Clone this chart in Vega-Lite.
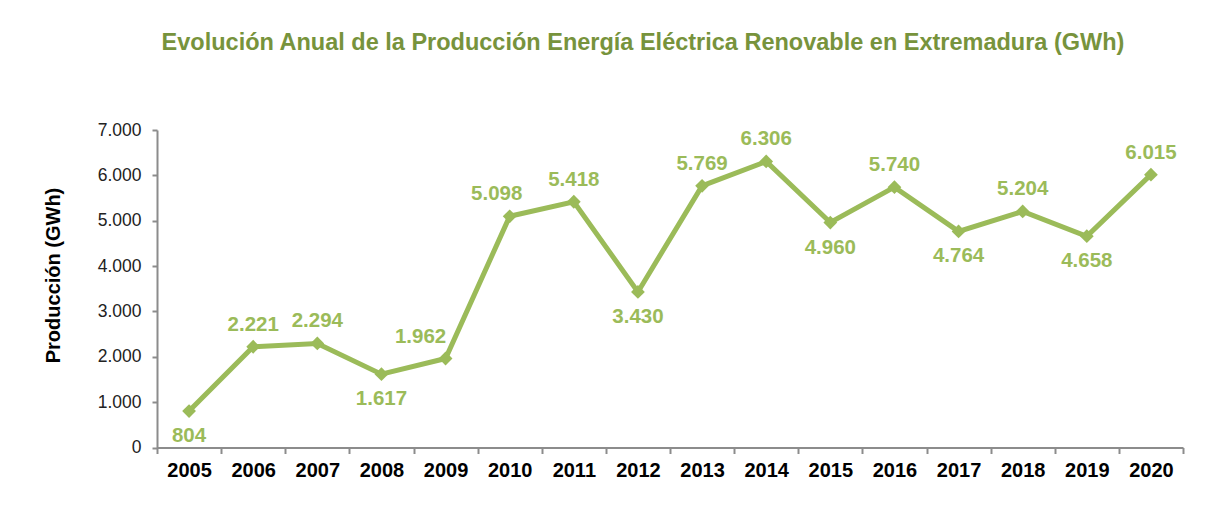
{
  "$schema": "https://vega.github.io/schema/vega-lite/v6.json",
  "autosize": "none",
  "width": 1026,
  "height": 317.5,
  "padding": {"left": 157, "top": 130, "right": 44, "bottom": 69.5},
  "background": "white",
  "config": {
    "font": "Liberation Sans",
    "view": {"stroke": null},
    "locale": {"number": {"decimal": ",", "thousands": ".", "grouping": [3], "currency": ["", " €"]}}
  },
  "title": {
    "text": "Evolución Anual de la Producción Energía Eléctrica Renovable en Extremadura (GWh)",
    "fontSize": 23.5,
    "fontWeight": "bold",
    "color": "#77933C",
    "anchor": "middle",
    "dx": -27,
    "offset": 67
  },
  "data": {
    "values": [
      {"year": "2005", "value": 804},
      {"year": "2006", "value": 2221},
      {"year": "2007", "value": 2294},
      {"year": "2008", "value": 1617},
      {"year": "2009", "value": 1962},
      {"year": "2010", "value": 5098},
      {"year": "2011", "value": 5418},
      {"year": "2012", "value": 3430},
      {"year": "2013", "value": 5769},
      {"year": "2014", "value": 6306},
      {"year": "2015", "value": 4960},
      {"year": "2016", "value": 5740},
      {"year": "2017", "value": 4764},
      {"year": "2018", "value": 5204},
      {"year": "2019", "value": 4658},
      {"year": "2020", "value": 6015}
    ]
  },
  "encoding": {
    "x": {
      "field": "year",
      "type": "ordinal",
      "scale": {"paddingInner": 0, "paddingOuter": 0},
      "axis": {
        "title": null,
        "labelAngle": 0,
        "labelFontSize": 20,
        "labelFontWeight": "bold",
        "labelColor": "#000000",
        "labelPadding": 7,
        "tickBand": "extent",
        "tickSize": 6,
        "tickColor": "#8C8C8C",
        "domainColor": "#8C8C8C",
        "domainWidth": 2,
        "tickWidth": 2
      }
    },
    "y": {
      "field": "value",
      "type": "quantitative",
      "scale": {"domain": [0, 7000], "nice": false},
      "axis": {
        "values": [0, 1000, 2000, 3000, 4000, 5000, 6000, 7000],
        "format": ",d",
        "grid": false,
        "title": "Producción (GWh)",
        "titleFontSize": 20,
        "titleFontWeight": "bold",
        "titleColor": "#000000",
        "titleX": -104,
        "titleY": 145,
        "titleBaseline": "middle",
        "labelFontSize": 17.5,
        "labelColor": "#222222",
        "labelPadding": 11,
        "tickSize": 5,
        "tickColor": "#8C8C8C",
        "domainColor": "#8C8C8C",
        "domainWidth": 2,
        "tickWidth": 2
      }
    }
  },
  "layer": [
    {"mark": {"type": "line", "color": "#9BBB59", "strokeWidth": 5}},
    {"mark": {"type": "point", "shape": "diamond", "filled": true, "opacity": 1, "color": "#9BBB59", "size": 190}},
    {
      "transform": [{"filter": {"field": "year", "oneOf": ["2005", "2008", "2012", "2015", "2017", "2019"]}}],
      "mark": {"type": "text", "color": "#9BBB59", "fontSize": 20.5, "fontWeight": "bold", "baseline": "middle", "dy": 25},
      "encoding": {"text": {"field": "value", "type": "quantitative", "format": ",d"}}
    },
    {
      "transform": [{"filter": {"not": {"field": "year", "oneOf": ["2005", "2008", "2012", "2015", "2017", "2019", "2009", "2010"]}}}],
      "mark": {"type": "text", "color": "#9BBB59", "fontSize": 20.5, "fontWeight": "bold", "baseline": "middle", "dy": -22},
      "encoding": {"text": {"field": "value", "type": "quantitative", "format": ",d"}}
    },
    {
      "transform": [{"filter": {"field": "year", "equal": "2009"}}],
      "mark": {"type": "text", "color": "#9BBB59", "fontSize": 20.5, "fontWeight": "bold", "baseline": "middle", "dy": -22, "dx": -25},
      "encoding": {"text": {"field": "value", "type": "quantitative", "format": ",d"}}
    },
    {
      "transform": [{"filter": {"field": "year", "equal": "2010"}}],
      "mark": {"type": "text", "color": "#9BBB59", "fontSize": 20.5, "fontWeight": "bold", "baseline": "middle", "dy": -22, "dx": -13},
      "encoding": {"text": {"field": "value", "type": "quantitative", "format": ",d"}}
    }
  ]
}
